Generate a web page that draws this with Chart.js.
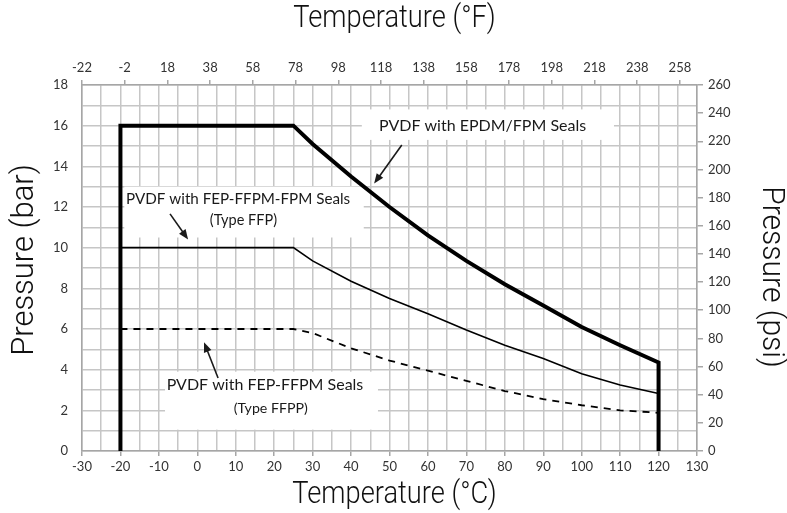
<!DOCTYPE html>
<html>
<head>
<meta charset="utf-8">
<script src="https://cdn.jsdelivr.net/npm/chart.js@4.4.0/dist/chart.umd.min.js"></script>
<style>
html, body { margin: 0; padding: 0; background: #fff; }
</style>
</head>
<body>
<canvas id="myChart" width="787" height="513"></canvas>
<script>
const temps = [25, 30, 40, 50, 60, 70, 80, 90, 100, 110, 120];
// max pressure (bar) per seal type
const epdmBar = [16, 15.1, 13.5, 12.0, 10.6, 9.35, 8.2, 7.15, 6.1, 5.2, 4.35];
const ffpBar  = [10, 9.35, 8.35, 7.5, 6.75, 5.95, 5.2, 4.55, 3.8, 3.25, 2.83];
const ffppBar = [6, 5.8, 5.05, 4.45, 3.95, 3.45, 2.95, 2.55, 2.25, 2.0, 1.88];
// low / high end of the rating (°C)
const minTemp = -20;
const maxTemp = 120;
// top axis tick labels (°F)
const fahrenheitTicks = [-22, -2, 18, 38, 58, 78, 98, 118, 138, 158, 178, 198, 218, 238, 258];
// axis titles
const axisTitles = { bottom: 'Temperature (°C)', top: 'Temperature (°F)', left: 'Pressure (bar)', right: 'Pressure (psi)' };

const labelFont = "Lato, 'Open Sans', sans-serif";
const titleFont = "300 31px Roboto, 'DejaVu Sans Condensed', sans-serif";
const gridGray = '#c6c6c6';
const axisGray = '#a6a6a6';

function curve(values, dropToZero) {
    let pts = [];
    if (dropToZero) pts.push({x: minTemp, y: 0});
    pts.push({x: minTemp, y: values[0]});
    temps.forEach((t, i) => pts.push({x: t, y: values[i]}));
    if (dropToZero) pts.push({x: maxTemp, y: 0});
    return pts;
}

// callout boxes / text / arrows, in data units (°C, bar)
const callouts = [
    {box: [42.8, 16.8, 108.4, 15.3], lines: [['PVDF with EPDM/FPM Seals', 74.2, 16.0, 16]],
     arrow: [53.2, 15.05, 46.0, 13.15]},
    {box: [-19.0, 13.0, 43.3, 10.5], lines: [['PVDF with FEP-FFPM-FPM Seals', 10.6, 12.4, 15.2], ['(Type FFP)', 12.0, 11.35, 14.5]],
     arrow: [-7.1, 11.66, -2.4, 10.4]},
    {box: [-8.4, 3.9, 47.0, 1.05], lines: [['PVDF with FEP-FFPM Seals', 17.6, 3.25, 16], ['(Type FFPP)', 19.1, 2.07, 14.2]],
     arrow: [5.4, 3.59, 1.75, 5.35]}
];

const calloutPlugin = {
    id: 'callouts',
    beforeDatasetsDraw(chart) {
        const ctx = chart.ctx, xs = chart.scales.x, ys = chart.scales.y;
        ctx.save();
        ctx.fillStyle = '#fff';
        callouts.forEach(c => {
            let x0 = xs.getPixelForValue(c.box[0]), y0 = ys.getPixelForValue(c.box[1]);
            let x1 = xs.getPixelForValue(c.box[2]), y1 = ys.getPixelForValue(c.box[3]);
            ctx.fillRect(x0, y0, x1 - x0, y1 - y0);
        });
        ctx.restore();
    },
    afterDatasetsDraw(chart) {
        const ctx = chart.ctx, xs = chart.scales.x, ys = chart.scales.y;
        ctx.save();
        ctx.fillStyle = '#1a1a1a';
        ctx.strokeStyle = '#1a1a1a';
        ctx.textAlign = 'center';
        ctx.textBaseline = 'middle';
        callouts.forEach(c => {
            c.lines.forEach(l => {
                ctx.font = l[3] + 'px ' + labelFont;
                ctx.fillText(l[0], xs.getPixelForValue(l[1]), ys.getPixelForValue(l[2]));
            });
            let ax = xs.getPixelForValue(c.arrow[0]), ay = ys.getPixelForValue(c.arrow[1]);
            let bx = xs.getPixelForValue(c.arrow[2]), by = ys.getPixelForValue(c.arrow[3]);
            let ang = Math.atan2(by - ay, bx - ax);
            ctx.lineWidth = 1.6;
            ctx.beginPath();
            ctx.moveTo(ax, ay);
            ctx.lineTo(bx - 7 * Math.cos(ang), by - 7 * Math.sin(ang));
            ctx.stroke();
            ctx.beginPath();
            ctx.moveTo(bx, by);
            ctx.lineTo(bx - 10 * Math.cos(ang) + 4 * Math.sin(ang), by - 10 * Math.sin(ang) - 4 * Math.cos(ang));
            ctx.lineTo(bx - 10 * Math.cos(ang) - 4 * Math.sin(ang), by - 10 * Math.sin(ang) + 4 * Math.cos(ang));
            ctx.closePath();
            ctx.fill();
        });
        ctx.restore();
    }
};

// narrow axis titles (the original uses a condensed face)
const titlePlugin = {
    id: 'axisTitles',
    afterDraw(chart) {
        const ctx = chart.ctx, a = chart.chartArea;
        const cx = (a.left + a.right) / 2 + 5, cy = (a.top + a.bottom) / 2;
        const put = (text, x, y, rot, squeeze) => {
            ctx.save();
            ctx.translate(x, y);
            ctx.rotate(rot);
            ctx.scale(squeeze, 1);
            ctx.fillText(text, 0, 0);
            ctx.restore();
        };
        ctx.save();
        ctx.font = titleFont;
        ctx.fillStyle = '#111';
        ctx.textAlign = 'center';
        ctx.textBaseline = 'middle';
        put(axisTitles.top, cx, 19, 0, 0.88);
        put(axisTitles.bottom, cx, 495, 0, 0.88);
        put(axisTitles.left, 25, cy - 8, -Math.PI / 2, 1.0);
        put(axisTitles.right, 771, cy + 9, Math.PI / 2, 0.97);
        ctx.restore();
    }
};

const ctx = document.getElementById('myChart');
const myChart = new Chart(ctx, {
    type: 'scatter',
    data: {
        datasets: [{
            label: 'PVDF with EPDM/FPM Seals',
            data: curve(epdmBar, true),
            showLine: true,
            borderColor: '#000',
            borderWidth: 4,
            borderJoinStyle: 'miter',
            pointRadius: 0,
            xAxisID: 'x', yAxisID: 'y'
        }, {
            label: 'PVDF with FEP-FFPM-FPM Seals (Type FFP)',
            data: curve(ffpBar, false),
            showLine: true,
            borderColor: '#000',
            borderWidth: 1.6,
            pointRadius: 0,
            xAxisID: 'x', yAxisID: 'y'
        }, {
            label: 'PVDF with FEP-FFPM Seals (Type FFPP)',
            data: curve(ffppBar, false),
            showLine: true,
            borderColor: '#000',
            borderWidth: 1.8,
            borderDash: [7, 6],
            pointRadius: 0,
            xAxisID: 'x', yAxisID: 'y'
        }]
    },
    options: {
        responsive: false,
        animation: false,
        layout: { padding: 0 },
        plugins: { legend: { display: false }, tooltip: { enabled: false } },
        scales: {
            x: {
                type: 'linear', position: 'bottom', min: -30, max: 130,
                ticks: {
                    stepSize: 5, autoSkip: false, maxRotation: 0, padding: 3,
                    color: '#333', font: { family: labelFont, size: 13 },
                    callback: v => (v % 10 === 0 ? v : '')
                },
                grid: {
                    color: gridGray, lineWidth: 1.5, tickLength: 5,
                    tickColor: c => (c.tick && c.tick.value % 10 === 0 ? axisGray : 'rgba(0,0,0,0)')
                },
                border: { color: axisGray, width: 1.5 },
                afterFit: s => { s.height = 62; }
            },
            xTop: {
                type: 'linear', position: 'top', min: -22, max: 266,
                afterBuildTicks: s => { s.ticks = fahrenheitTicks.map(v => ({ value: v })); },
                ticks: { autoSkip: false, maxRotation: 0, padding: 4, color: '#333',
                         font: { family: labelFont, size: 13 } },
                grid: { drawOnChartArea: false, color: axisGray, lineWidth: 1.5, tickLength: 5 },
                border: { color: axisGray, width: 1.5 },
                afterFit: s => { s.height = 85; }
            },
            y: {
                type: 'linear', position: 'left', min: 0, max: 18,
                ticks: {
                    stepSize: 1, autoSkip: false, padding: 14, color: '#333',
                    font: { family: labelFont, size: 13 },
                    callback: v => (v % 2 === 0 ? v : '')
                },
                grid: { color: gridGray, lineWidth: 1.5, drawTicks: false },
                border: { color: axisGray, width: 1.5 },
                afterFit: s => { s.width = 82; }
            },
            yRight: {
                type: 'linear', position: 'right', min: 0, max: 260,
                ticks: { stepSize: 20, autoSkip: false, padding: 5, color: '#333',
                         font: { family: labelFont, size: 13 } },
                grid: { drawOnChartArea: false, color: axisGray, lineWidth: 1.5, tickLength: 6 },
                border: { color: axisGray, width: 1.5 },
                afterFit: s => { s.width = 90; }
            }
        }
    },
    plugins: [calloutPlugin, titlePlugin]
});
</script>
</body>
</html>
